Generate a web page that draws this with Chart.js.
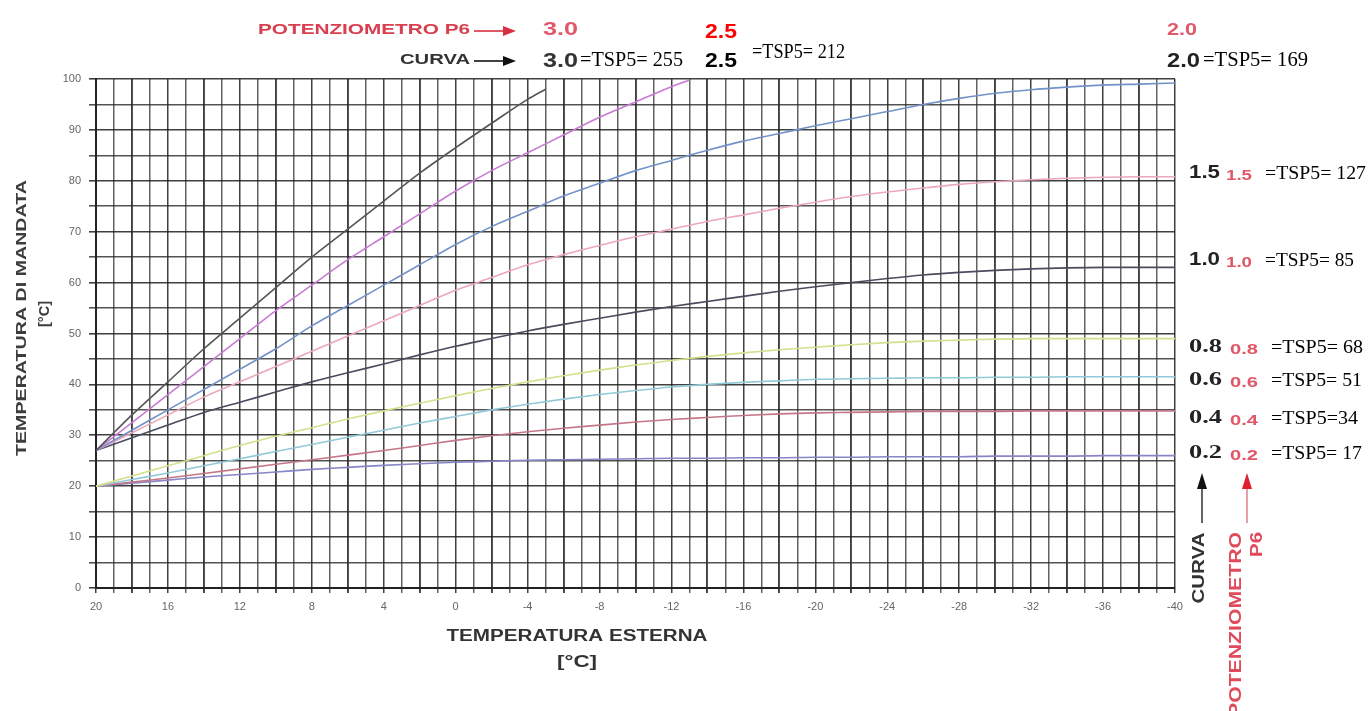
<!DOCTYPE html>
<html>
<head>
<meta charset="utf-8">
<title>Curve climatiche</title>
<script src="https://cdn.jsdelivr.net/npm/chart.js@4/dist/chart.umd.min.js"></script>
<style>
  html, body { margin: 0; padding: 0; background: #fff; overflow: hidden; }
  canvas { display: block; }
</style>
</head>
<body>
<canvas id="chart" width="1369" height="711"></canvas>
<script>
// Outdoor temperature (°C) sampled every 2 degrees
const outdoorTemp = [20, 18, 16, 14, 12, 10, 8, 6, 4, 2, 0, -2, -4, -6, -8, -10, -12, -14, -16, -18, -20, -22, -24, -26, -28, -30, -32, -34, -36, -38, -40];

// The two steepest curves stop when the flow temperature reaches the top of the scale
const tempCurva30 = [20, 18, 16, 14, 12, 10, 8, 6, 4, 2, 0, -2, -4, -5];
const curva30 = [27, 34, 40.5, 47, 53, 59, 65, 70.5, 76, 81.5, 86.5, 91.3, 96, 98];

const tempCurva25 = [20, 18, 16, 14, 12, 10, 8, 6, 4, 2, 0, -2, -4, -6, -8, -10, -12, -13];
const curva25 = [27, 32.5, 38, 43.5, 49, 54.5, 59.5, 64.5, 69, 73.5, 78, 82, 85.5, 89, 92.5, 95.5, 98.5, 99.8];

// Flow temperature (°C) for the remaining curves, on outdoorTemp
const curva20 = [27, 31, 35, 39, 43, 47, 51.5, 55.5, 59.5, 63.5, 67.5, 71, 74, 77, 79.5, 82, 84, 86, 87.8, 89.3, 90.8, 92.2, 93.6, 95, 96.2, 97.2, 97.9, 98.4, 98.8, 99, 99.2];
const curva15 = [27, 30.5, 34, 37.5, 40.5, 43.5, 46.5, 49.5, 52.5, 55.5, 58.5, 61, 63.5, 65.5, 67.3, 69, 70.5, 72, 73.3, 74.6, 75.8, 76.9, 77.8, 78.6, 79.3, 79.8, 80.2, 80.5, 80.7, 80.8, 80.8];
const curva10 = [27, 29.5, 32, 34.5, 36.5, 38.5, 40.5, 42.3, 44, 45.8, 47.5, 49, 50.5, 51.8, 53, 54.2, 55.3, 56.3, 57.3, 58.3, 59.2, 60, 60.8, 61.5, 62, 62.4, 62.7, 62.9, 63, 63, 63];
const curva08 = [20, 22, 24, 26, 28, 29.8, 31.5, 33.2, 34.8, 36.3, 37.8, 39.2, 40.5, 41.7, 42.8, 43.8, 44.7, 45.5, 46.2, 46.8, 47.3, 47.8, 48.2, 48.5, 48.7, 48.9, 49, 49, 49, 49, 49];
const curva06 = [20, 21.3, 22.6, 24, 25.4, 26.8, 28.2, 29.6, 31, 32.4, 33.7, 35, 36.1, 37.1, 38, 38.8, 39.5, 40, 40.4, 40.7, 41, 41.1, 41.2, 41.3, 41.3, 41.4, 41.4, 41.5, 41.5, 41.5, 41.5];
const curva04 = [20, 20.8, 21.6, 22.5, 23.4, 24.3, 25.2, 26.1, 27, 28, 29, 29.9, 30.7, 31.4, 32, 32.6, 33.1, 33.5, 33.9, 34.2, 34.4, 34.5, 34.6, 34.7, 34.7, 34.7, 34.8, 34.8, 34.8, 34.8, 34.8];
const curva02 = [20, 20.6, 21.2, 21.8, 22.3, 22.8, 23.3, 23.7, 24.1, 24.4, 24.7, 24.9, 25.1, 25.2, 25.3, 25.4, 25.5, 25.5, 25.6, 25.6, 25.7, 25.7, 25.8, 25.8, 25.8, 25.9, 25.9, 25.9, 26, 26, 26];

// Axis tick labels
const xTickLabels = ['20', '16', '12', '8', '4', '0', '-4', '-8', '-12', '-16', '-20', '-24', '-28', '-32', '-36', '-40'];
const yTickLabels = ['0', '10', '20', '30', '40', '50', '60', '70', '80', '90', '100'];

// Curve setting, P6 potentiometer setting and TSP5 parameter value
const curveNames = ['3.0', '2.5', '2.0', '1.5', '1.0', '0.8', '0.6', '0.4', '0.2'];
const tsp5Values = [255, 212, 169, 127, 85, 68, 51, 34, 17];

function pairs(xs, ys) {
  const out = [];
  xs.forEach((x, i) => { if (ys[i] !== null && ys[i] !== undefined) out.push({ x: x, y: ys[i] }); });
  return out;
}

const lineColors = ['#555555', '#c97ad4', '#7392c8', '#eca8ba', '#4a4b5e', '#d6df8c', '#92c9d8', '#c57789', '#8886c6'];
const seriesData = [
  pairs(tempCurva30, curva30),
  pairs(tempCurva25, curva25),
  pairs(outdoorTemp, curva20),
  pairs(outdoorTemp, curva15),
  pairs(outdoorTemp, curva10),
  pairs(outdoorTemp, curva08),
  pairs(outdoorTemp, curva06),
  pairs(outdoorTemp, curva04),
  pairs(outdoorTemp, curva02)
];

const datasets = seriesData.map((d, i) => ({
  label: 'Curva ' + curveNames[i],
  data: d,
  borderColor: lineColors[i],
  borderWidth: 1.6,
  pointRadius: 0,
  fill: false,
  cubicInterpolationMode: 'monotone'
}));

// Text helper: draws a string squeezed/stretched to a given width
function fitText(ctx, text, x, y, font, color, width, align, rotate) {
  ctx.save();
  ctx.font = font;
  ctx.fillStyle = color;
  ctx.textBaseline = 'middle';
  ctx.textAlign = 'left';
  const w = ctx.measureText(text).width;
  const sx = width ? width / w : 1;
  ctx.translate(x, y);
  if (rotate) ctx.rotate(rotate);
  ctx.scale(sx, 1);
  let ox = 0;
  if (align === 'center') ox = -w / 2;
  else if (align === 'right') ox = -w;
  ctx.fillText(text, ox, 0);
  ctx.restore();
}

function arrowRight(ctx, x0, x1, y, color) {
  ctx.save();
  ctx.strokeStyle = color; ctx.fillStyle = color; ctx.lineWidth = 1.6;
  ctx.beginPath(); ctx.moveTo(x0, y); ctx.lineTo(x1 - 12, y); ctx.stroke();
  ctx.beginPath(); ctx.moveTo(x1, y); ctx.lineTo(x1 - 13, y - 5); ctx.lineTo(x1 - 13, y + 5); ctx.closePath(); ctx.fill();
  ctx.restore();
}

function arrowUp(ctx, x, y0, y1, lineColor, headColor) {
  ctx.save();
  ctx.strokeStyle = lineColor; ctx.fillStyle = headColor; ctx.lineWidth = 1.4;
  ctx.beginPath(); ctx.moveTo(x, y0); ctx.lineTo(x, y1 + 14); ctx.stroke();
  ctx.beginPath(); ctx.moveTo(x, y1); ctx.lineTo(x - 5, y1 + 16); ctx.lineTo(x + 5, y1 + 16); ctx.closePath(); ctx.fill();
  ctx.restore();
}

const SANS = 'Arial, "Liberation Sans", sans-serif';
const SERIF = '"Times New Roman", "Liberation Serif", serif';
const RED = '#e05868';

const labelsPlugin = {
  id: 'curveLabels',
  afterDraw(chart) {
    const ctx = chart.ctx;
    // axis titles
    fitText(ctx, 'TEMPERATURA DI MANDATA', 22, 318, 'bold 15px ' + SANS, '#3d3d3d', 276, 'center', -Math.PI / 2);
    fitText(ctx, '[°C]', 45, 314, 'bold 15px ' + SANS, '#3d3d3d', 26, 'center', -Math.PI / 2);
    fitText(ctx, 'TEMPERATURA ESTERNA', 577, 637, 'bold 16px ' + SANS, '#333', 261, 'center');
    fitText(ctx, '[°C]', 577, 663, 'bold 16px ' + SANS, '#333', 40, 'center');

    // header: P6 potentiometer and curve keys
    fitText(ctx, 'POTENZIOMETRO P6', 258, 30, 'bold 15px ' + SANS, '#d8404f', 212);
    arrowRight(ctx, 474, 516, 31, '#d8303f');
    fitText(ctx, 'CURVA', 400, 60, 'bold 15px ' + SANS, '#333', 70);
    arrowRight(ctx, 474, 516, 61, '#111');

    fitText(ctx, curveNames[0], 543, 30, 'bold 19px ' + SANS, RED, 35);
    fitText(ctx, curveNames[0], 543, 61, 'bold 20px ' + SANS, '#333', 35);
    fitText(ctx, '=TSP5= ' + tsp5Values[0], 580, 61, '20px ' + SERIF, '#000', 103);

    fitText(ctx, curveNames[1], 705, 32, 'bold 21px ' + SANS, '#ff0000', 32);
    fitText(ctx, curveNames[1], 705, 61, 'bold 21px ' + SANS, '#000', 32);
    fitText(ctx, '=TSP5= ' + tsp5Values[1], 752, 53, '20px ' + SERIF, '#000', 93);

    fitText(ctx, curveNames[2], 1167, 30, 'bold 17px ' + SANS, RED, 30);
    fitText(ctx, curveNames[2], 1167, 61, 'bold 20px ' + SANS, '#222', 33);
    fitText(ctx, '=TSP5= ' + tsp5Values[2], 1203, 61, '20px ' + SERIF, '#000', 105);

    // right-hand keys
    const rows = [
      { i: 3, y: 173, font: SANS, w: 101 },
      { i: 4, y: 260, font: SANS, w: 89 },
      { i: 5, y: 347, font: SERIF, w: 92 },
      { i: 6, y: 380, font: SERIF, w: 91 },
      { i: 7, y: 418, font: SERIF, w: 87 },
      { i: 8, y: 453, font: SERIF, w: 91 }
    ];
    rows.forEach(r => {
      const low = r.i >= 5;
      const txt = low && r.i === 7 ? '=TSP5=' + tsp5Values[r.i] : '=TSP5= ' + tsp5Values[r.i];
      fitText(ctx, curveNames[r.i], 1189, r.y, 'bold 19px ' + r.font, '#222', low ? 33 : 31);
      fitText(ctx, curveNames[r.i], low ? 1230 : 1226, r.y + 3, 'bold 15px ' + SANS, RED, low ? 28 : 26);
      fitText(ctx, txt, low ? 1271 : 1265, r.y + 1, '19px ' + SERIF, '#000', r.w);
    });

    // vertical keys below the scale
    arrowUp(ctx, 1202, 523, 473, '#222', '#111');
    fitText(ctx, 'CURVA', 1199, 568, 'bold 17px ' + SANS, '#333', 71, 'center', -Math.PI / 2);
    arrowUp(ctx, 1247, 523, 473, '#e07585', '#e0202e');
    fitText(ctx, 'POTENZIOMETRO', 1236, 532, 'bold 17px ' + SANS, '#e04a5a', 185, 'right', -Math.PI / 2);
    fitText(ctx, 'P6', 1257, 532, 'bold 17px ' + SANS, '#e04a5a', 25, 'right', -Math.PI / 2);
  }
};

new Chart(document.getElementById('chart'), {
  type: 'line',
  data: { datasets: datasets },
  options: {
    responsive: false,
    animation: false,
    events: [],
    layout: { padding: { left: 56, right: 194, top: 79, bottom: 93 } },
    plugins: { legend: { display: false }, tooltip: { enabled: false } },
    scales: {
      x: {
        type: 'linear',
        reverse: true,
        min: -40,
        max: 20,
        afterFit: s => { s.height = 30; },
        border: { display: true, color: '#222', width: 2 },
        grid: {
          color: c => (Math.abs(c.tick.value) % 2 === 0 ? 'rgba(30,30,30,0.85)' : 'rgba(45,45,45,0.75)'),
          lineWidth: c => (Math.abs(c.tick.value) % 4 === 2 ? 1.9 : 1.5),
          tickLength: 5
        },
        ticks: {
          stepSize: 1,
          autoSkip: false,
          maxRotation: 0,
          padding: 7,
          color: '#666',
          font: { family: SANS, size: 11 },
          callback: v => (xTickLabels.includes(String(v)) ? String(v) : '')
        }
      },
      y: {
        min: 0,
        max: 100,
        afterFit: s => { s.width = 40; },
        border: { display: true, color: '#222', width: 2 },
        grid: {
          color: c => (c.tick.value % 10 === 0 ? 'rgba(30,30,30,0.85)' : 'rgba(40,40,40,0.8)'),
          lineWidth: 1.6,
          tickLength: 7
        },
        ticks: {
          stepSize: 5,
          autoSkip: false,
          padding: 8,
          color: '#666',
          font: { family: SANS, size: 11 },
          callback: v => (yTickLabels.includes(String(v)) ? String(v) : '')
        }
      }
    }
  },
  plugins: [labelsPlugin]
});
</script>
</body>
</html>
